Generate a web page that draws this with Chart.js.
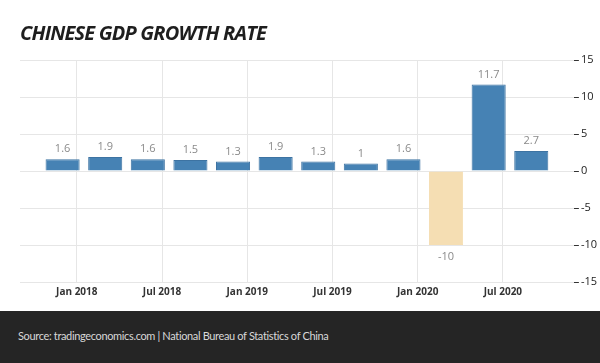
<!DOCTYPE html>
<html>
<head>
<meta charset="utf-8">
<script src="https://cdn.jsdelivr.net/npm/chart.js@4.4.1/dist/chart.umd.min.js"></script>
<style>
  html, body { margin: 0; padding: 0; background: #fff; }
  #wrap { position: relative; width: 600px; height: 363px; overflow: hidden; }
  #title {
    position: absolute; left: 20px; top: 19px;
    font: italic bold 20px "Open Sans", sans-serif; color: #1e1e1e;
    letter-spacing: -0.8px;
  }
  #chartBox { position: absolute; left: 0; top: 0; width: 600px; height: 311px; }
  #footer {
    position: absolute; left: 0; top: 311px; width: 600px; height: 52px;
    background: #252525; color: #d8d8d8;
    font: 11px Lato, sans-serif; letter-spacing: -0.35px; line-height: 50px; padding-left: 18px;
    box-sizing: border-box;
  }
</style>
</head>
<body>
<div id="wrap">
  <div id="chartBox"><canvas id="gdpChart" width="600" height="311"></canvas></div>
  <div id="title">CHINESE GDP GROWTH RATE</div>
  <div id="footer">Source: tradingeconomics.com | National Bureau of Statistics of China</div>
</div>
<script>
// quarterly data, Q4 2017 .. Q3 2020
const quarters = ['Q4 2017', 'Q1 2018', 'Q2 2018', 'Q3 2018', 'Q4 2018', 'Q1 2019',
                  'Q2 2019', 'Q3 2019', 'Q4 2019', 'Q1 2020', 'Q2 2020', 'Q3 2020'];
// month of each quarter's last month, counted from Jan 2018 = 0
const quarterMonths = [-1, 2, 5, 8, 11, 14, 17, 20, 23, 26, 29, 32];
const growth = [1.6, 1.9, 1.6, 1.5, 1.3, 1.9, 1.3, 1, 1.6, -10, 11.7, 2.7];

const tickMonths = [0, 6, 12, 18, 24, 30];
const tickLabels = ['Jan 2018', 'Jul 2018', 'Jan 2019', 'Jul 2019', 'Jan 2020', 'Jul 2020'];
const yTicks = [15, 10, 5, 0, -5, -10, -15];

// value labels above / below each bar
const barLabels = {
  id: 'barLabels',
  afterDatasetsDraw(chart) {
    const ctx = chart.ctx;
    const meta = chart.getDatasetMeta(0);
    ctx.save();
    ctx.font = '11px "Open Sans", sans-serif';
    ctx.fillStyle = '#8a8a8a';
    ctx.textAlign = 'center';
    ctx.textBaseline = 'middle';
    meta.data.forEach((bar, i) => {
      const v = growth[i];
      const y = v >= 0 ? bar.y - 10 : bar.y + 12;
      ctx.fillText(String(v), bar.x, y);
    });
    ctx.restore();
  }
};

const ctx = document.getElementById('gdpChart').getContext('2d');
new Chart(ctx, {
  type: 'bar',
  data: {
    labels: quarters,
    datasets: [{
      label: 'GDP Growth Rate',
      data: quarterMonths.map((m, i) => ({ x: m, y: growth[i] })),
      backgroundColor: c => (c.raw && c.raw.y < 0) ? '#f5deb3' : '#4682b4',
      borderColor: c => (c.raw && c.raw.y < 0) ? '#f5deb3' : '#3d73a2',
      borderWidth: 1,
      barPercentage: 0.8,
      categoryPercentage: 1
    }]
  },
  options: {
    responsive: false,
    animation: false,
    layout: { padding: { top: 60, left: 20, right: 1, bottom: 9 } },
    plugins: {
      legend: { display: false },
      tooltip: { enabled: false }
    },
    scales: {
      x: {
        type: 'linear',
        min: -4,
        max: 35,
        offset: false,
        grid: { offset: false, color: '#e6e6e6', lineWidth: 1, drawTicks: false },
        border: { display: false },
        afterBuildTicks: s => { s.ticks = tickMonths.map(v => ({ value: v })); },
        ticks: {
          padding: 4,
          color: '#333',
          font: { family: '"Open Sans", sans-serif', size: 10, weight: 'bold' },
          callback: v => tickLabels[tickMonths.indexOf(v)],
          maxRotation: 0,
          autoSkip: false
        }
      },
      y: {
        position: 'right',
        min: -15,
        max: 15,
        afterBuildTicks: s => { s.ticks = yTicks.map(v => ({ value: v })); },
        grid: { color: '#e6e6e6', lineWidth: 1, tickColor: '#333', tickLength: 5 },
        border: { display: false },
        ticks: {
          padding: 2,
          color: '#222',
          font: { family: '"Open Sans", sans-serif', size: 11 }
        }
      }
    }
  },
  plugins: [barLabels]
});
</script>
</body>
</html>
